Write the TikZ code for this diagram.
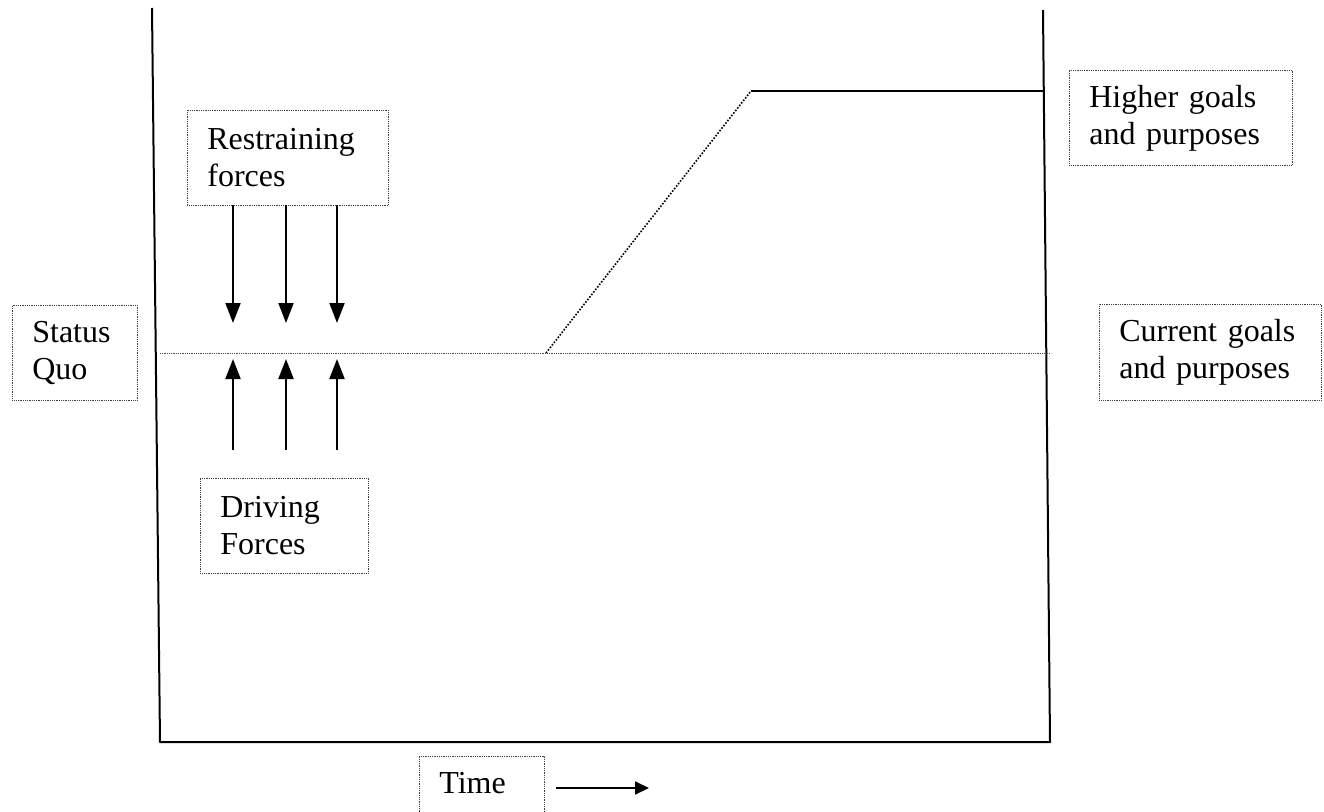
\documentclass[tikz,border=0pt]{standalone}
\usepackage{fontspec}
\setmainfont{Liberation Serif}
\usetikzlibrary{arrows.meta}

\begin{document}
\begin{tikzpicture}[
  x=1pt,
  y=-1pt,
  line join=round,
  frame/.style={draw=black,line width=2pt},
  label/.style={draw=black!75,line width=0.7pt,dash pattern=on 0.9pt off 0.9pt,
    anchor=north west,align=left,inner xsep=20pt,inner ysep=0pt,
    font=\fontsize{32}{37}\selectfont},
  statusline/.style={draw=black!70,line width=0.8pt,dash pattern=on 0.9pt off 0.9pt},
  rise/.style={draw=black,line width=1.6pt,dash pattern=on 1.6pt off 1.6pt},
  force/.style={draw=black,line width=2pt,-{Triangle[length=20pt,width=15pt]}},
  timearrow/.style={draw=black,line width=2pt,-{Triangle[length=14pt,width=13pt]}}
]
  \clip (0,0) rectangle (1324,811);

  % Outer frame of the chart.
  \coordinate (topL) at (152,8);
  \coordinate (botL) at (160,742);
  \coordinate (botR) at (1050,742);
  \coordinate (topR) at (1043,10);
  \draw[frame] (topL) -- (botL) -- (botR) -- (topR);

  % Status quo level and the rise to the higher level.
  \coordinate (sqL) at (160,353);
  \coordinate (sqR) at (1051,353);
  \coordinate (riseA) at (546,353);
  \coordinate (riseB) at (751,91);
  \coordinate (highR) at (1043,91);
  \draw[statusline] (sqL) -- (sqR);
  \draw[rise] (riseA) -- (riseB);
  \draw[frame] (riseB) -- (highR);

  % Text boxes.
  \node[label,text width=161pt,minimum height=95pt] (restrain) at (187,110) {Restraining\\forces};
  \node[label,text width=85pt,minimum height=95pt] (status) at (12,305) {Status\\Quo};
  \node[label,text width=128pt,minimum height=95pt] (driving) at (200,478) {Driving\\Forces};
  \node[label,text width=183pt,minimum height=95pt] (higher) at (1069,70) {Higher goals\\and purposes};
  \node[label,text width=182pt,minimum height=96pt] (current) at (1099,304) {Current goals\\and purposes};
  % The time box runs past the lower edge of the page.
  \node[label,text width=85pt,inner ysep=14pt,text height=23pt,text depth=40pt] (time) at (419,756) {Time};

  % Restraining and driving forces.
  \foreach \x [count=\i] in {233,286,337} {
    \coordinate (rtop\i) at (\x,205);
    \coordinate (rtip\i) at (\x,323);
    \coordinate (dbot\i) at (\x,450);
    \coordinate (dtip\i) at (\x,359);
    \draw[force] (rtop\i) -- (rtip\i);
    \draw[force] (dbot\i) -- (dtip\i);
  }

  % Time direction.
  \coordinate (tstart) at (556,788);
  \coordinate (tend) at (649,788);
  \draw[timearrow] (tstart) -- (tend);
\end{tikzpicture}
\end{document}
